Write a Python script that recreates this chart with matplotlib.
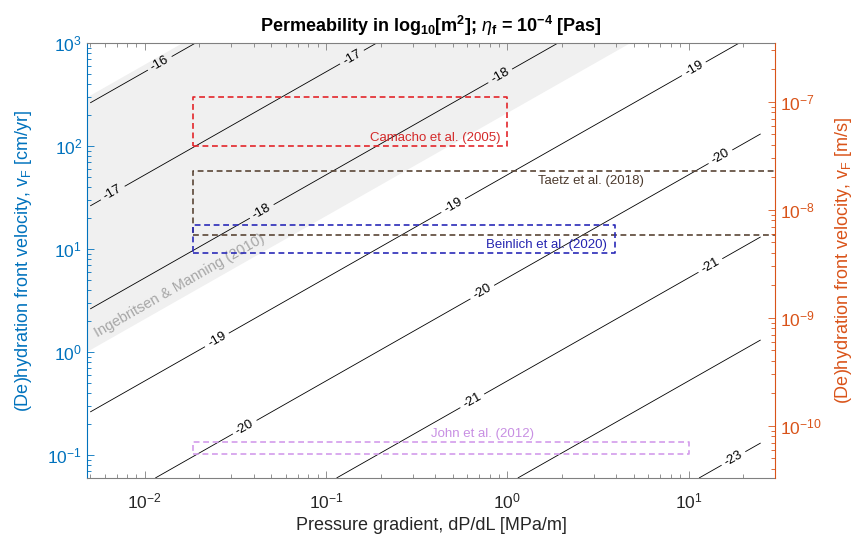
import numpy as np
import matplotlib
matplotlib.use("Agg")
import matplotlib.pyplot as plt
from matplotlib.ticker import NullFormatter, FixedLocator

plt.rcParams['font.family'] = ['Liberation Sans', 'DejaVu Sans']
plt.rcParams['mathtext.fontset'] = 'custom'
plt.rcParams['mathtext.rm'] = 'Liberation Sans'
plt.rcParams['mathtext.it'] = 'Liberation Sans:italic'
plt.rcParams['mathtext.bf'] = 'Liberation Sans:bold'
plt.rcParams['axes.unicode_minus'] = False
plt.rcParams['contour.negative_linestyle'] = 'solid'

# ---------------- data ----------------
# permeability contour levels, log10(k [m^2])
levels = [-23, -22, -21, -20, -19, -18, -17, -16]
# offset of log10 k = log10 v[cm/yr] - log10 dP/dL[MPa/m] + offset
k_offset = -20.72
# contour field extent
grad_range = [0.005, 25.0]      # MPa/m
vel_range = [0.06, 1000.0]      # cm/yr
# contour label positions: (level, pressure gradient)
label_levels = [-16, -17, -17, -18, -18, -19, -19, -19, -20, -20, -20, -21, -21, -23]
label_grads = [0.0121, 0.139, 0.00666, 0.0442, 0.914, 10.7, 0.503, 0.025,
               15.0, 0.728, 0.0356, 13.2, 0.641, 17.7]

# Ingebritsen & Manning (2010) band, log10 k bounds
band_levels = [-18.4, -15.93]

# study boxes: [x0, x1, y0, y1] in MPa/m and cm/yr
studies = ["Camacho et al. (2005)", "Taetz et al. (2018)",
           "Beinlich et al. (2020)", "John et al. (2012)"]
box_x0 = [0.0184, 0.0184, 0.0184, 0.0184]
box_x1 = [1.0, 100.0, 3.95, 10.0]
box_y0 = [100.0, 13.8, 9.25, 0.103]
box_y1 = [297.0, 57.3, 17.3, 0.135]
study_label_x = [0.40, 2.88, 1.64, 0.728]
study_label_y = [119.0, 45.9, 11.0, 0.161]
box_colors = ["#e3262b", "#5a4636", "#2a2ab8", "#d39ceb"]
text_colors = ["#d42a2a", "#4d3b2e", "#2424b0", "#c88fe3"]

# axis limits and ticks
xlim = [0.0048, 30.0]
ylim_left = [0.06, 1000.0]
ylim_right = [3.3e-11, 3.5e-7]
x_major = [0.01, 0.1, 1.0, 10.0]
yl_major = [0.1, 1.0, 10.0, 100.0, 1000.0]
yr_major = [1e-10, 1e-9, 1e-8, 1e-7]

LEFT_C = "#0072BD"
RIGHT_C = "#D95319"
AX_C = "#808080"


def minor_in(lim, decades):
    return [m * d for d in decades for m in range(2, 10) if lim[0] <= m * d <= lim[1]]


# ---------------- figure ----------------
fig = plt.figure(figsize=(8.58, 5.40), dpi=100)
ax = fig.add_axes([87 / 858, 62 / 540, (775 - 87) / 858, (478 - 43) / 540])
ax.set_xscale('log')
ax.set_yscale('log')
ax.set_xlim(xlim)
ax.set_ylim(ylim_left)

# band
gx = np.logspace(np.log10(xlim[0]), np.log10(xlim[1]), 400)
band_lo = 10 ** (band_levels[0] + np.log10(gx) - k_offset)
band_hi = 10 ** (band_levels[1] + np.log10(gx) - k_offset)
ax.fill_between(gx, band_lo, band_hi, color="#f0f0f0", lw=0, zorder=0)
ax.text(0.0156, 4.4, "Ingebritsen & Manning (2010)", color="#a6a6a6",
        fontsize=10.5, rotation=29.8, ha='center', va='center',
        rotation_mode='anchor', zorder=1)

# contours
G = np.logspace(np.log10(grad_range[0]), np.log10(grad_range[1]), 500)
V = np.logspace(np.log10(vel_range[0]), np.log10(vel_range[1]), 500)
GG, VV = np.meshgrid(G, V)
K = np.log10(VV) - np.log10(GG) + k_offset
cs = ax.contour(GG, VV, K, levels=sorted(levels), colors='black',
                linewidths=0.6, linestyles='solid', zorder=2)
manual = [(gx_, 10 ** (lv + np.log10(gx_) - k_offset))
          for lv, gx_ in zip(label_levels, label_grads)]
ax.clabel(cs, inline=True, fontsize=9.5, fmt='%d', manual=manual,
          inline_spacing=4)

# study boxes
for name, x0, x1, y0, y1, bc, tc, lx, ly in zip(studies, box_x0, box_x1, box_y0,
                                               box_y1, box_colors, text_colors,
                                               study_label_x, study_label_y):
    ax.plot([x0, x1, x1, x0, x0], [y0, y0, y1, y1, y0], color=bc,
            ls=(0, (3.5, 2.2)), lw=1.2, zorder=3)
    ax.text(lx, ly, name, color=tc, fontsize=9.5, ha='center', va='center',
            zorder=4)

# axes styling left
ax.tick_params(axis='both', which='both', direction='in', top=True,
               right=False, labelsize=12.5)
ax.tick_params(axis='both', which='major', length=5, width=0.6)
ax.tick_params(axis='both', which='minor', length=3, width=0.6)
ax.tick_params(axis='y', which='both', colors=LEFT_C, labelcolor=LEFT_C)
ax.tick_params(axis='x', which='both', colors=AX_C, labelcolor='#262626', pad=10)
ax.xaxis.set_major_locator(FixedLocator(x_major))
ax.xaxis.set_minor_locator(FixedLocator(minor_in(xlim, [1e-3, 1e-2, 1e-1, 1, 10])))
ax.yaxis.set_major_locator(FixedLocator(yl_major))
ax.yaxis.set_minor_locator(FixedLocator(minor_in(ylim_left, [1e-2, 1e-1, 1, 10, 100])))
ax.xaxis.set_minor_formatter(NullFormatter())
ax.yaxis.set_minor_formatter(NullFormatter())
for s in ['top', 'bottom']:
    ax.spines[s].set_color(AX_C)
    ax.spines[s].set_linewidth(0.8)
ax.spines['left'].set_color(LEFT_C)
ax.spines['left'].set_linewidth(0.8)
ax.spines['right'].set_visible(False)

ax.set_xlabel("Pressure gradient, dP/dL [MPa/m]", fontsize=13, color='#262626',
              labelpad=4)
ax.set_ylabel("(De)hydration front velocity, v$_\\mathrm{F}$ [cm/yr]",
              fontsize=13, color=LEFT_C, labelpad=10)
ax.set_title("Permeability in log$_{\\mathbf{10}}$[m$^{\\mathbf{2}}$]; $\\eta_{\\mathbf{f}}$ = 10$^{\\mathbf{-4}}$ [Pas]",
             fontsize=13, fontweight='bold', pad=8)

# right axis
ax2 = ax.twinx()
ax2.set_yscale('log')
ax2.set_ylim(ylim_right)
ax2.xaxis.set_visible(False)
ax2.yaxis.set_major_locator(FixedLocator(yr_major))
ax2.yaxis.set_minor_locator(FixedLocator(minor_in(ylim_right, [1e-11, 1e-10, 1e-9, 1e-8, 1e-7])))
ax2.tick_params(axis='y', which='both', direction='in', colors=RIGHT_C,
                labelcolor=RIGHT_C, labelsize=12.5)
ax2.tick_params(axis='y', which='major', length=5, width=0.6)
ax2.tick_params(axis='y', which='minor', length=3, width=0.6)
ax2.yaxis.set_minor_formatter(NullFormatter())
ax2.spines['right'].set_color(RIGHT_C)
ax2.spines['right'].set_linewidth(0.8)
for s in ['top', 'bottom', 'left']:
    ax2.spines[s].set_visible(False)
ax2.set_ylabel("(De)hydration front velocity, v$_\\mathrm{F}$ [m/s]",
               fontsize=13, color=RIGHT_C, labelpad=8)

fig.savefig("out.png", dpi=100)
